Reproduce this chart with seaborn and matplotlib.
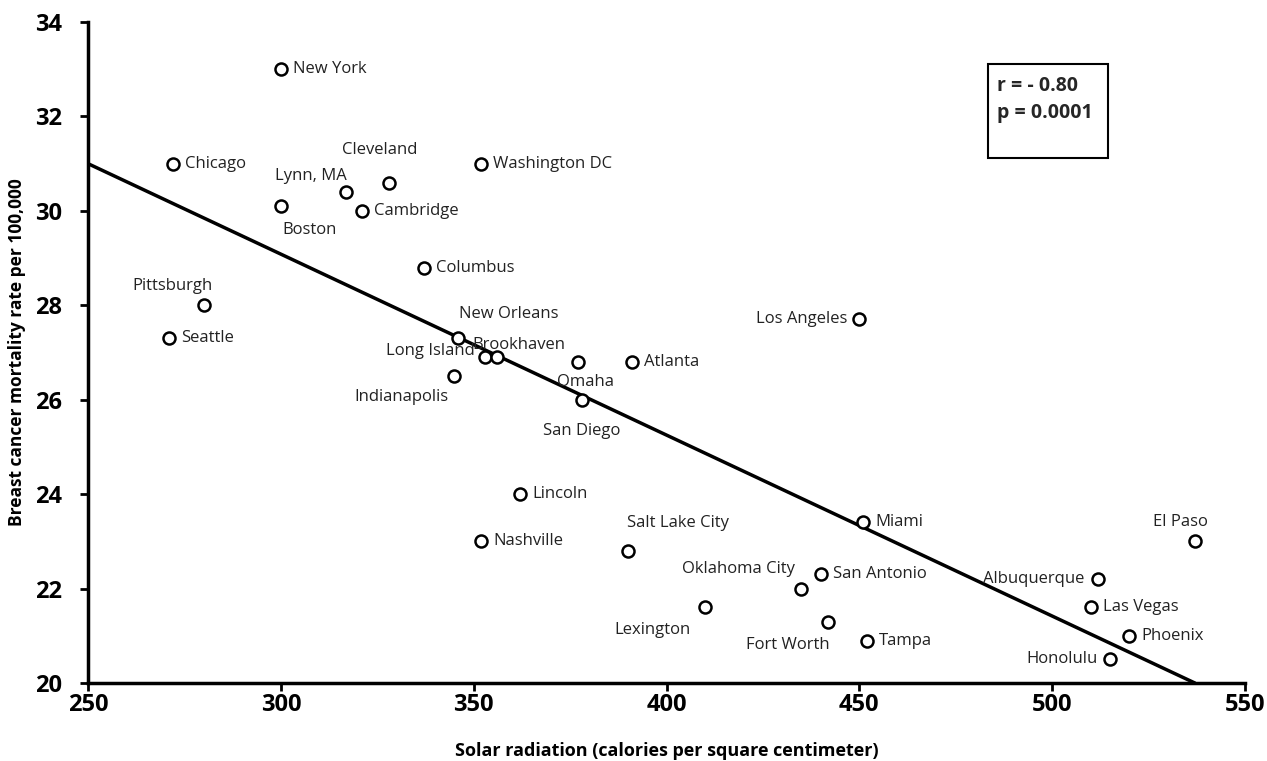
import matplotlib
matplotlib.use("Agg")
import matplotlib.pyplot as plt
import seaborn as sns
import pandas as pd
from matplotlib.patches import Rectangle

cities = ["New York", "Chicago", "Lynn, MA", "Cleveland", "Washington DC", "Boston",
          "Cambridge", "Columbus", "Pittsburgh", "Seattle", "New Orleans", "Long Island",
          "Brookhaven", "Indianapolis", "Omaha", "Atlanta", "San Diego", "Los Angeles",
          "Lincoln", "Miami", "Nashville", "Salt Lake City", "El Paso", "Oklahoma City",
          "San Antonio", "Albuquerque", "Lexington", "Las Vegas", "Fort Worth", "Tampa",
          "Phoenix", "Honolulu"]
solar = [300, 272, 317, 328, 352, 300, 321, 337, 280, 271, 346, 353, 356, 345, 377, 391,
         378, 450, 362, 451, 352, 390, 537, 435, 440, 512, 410, 510, 442, 452, 520, 515]
mortality = [33.0, 31.0, 30.4, 30.6, 31.0, 30.1, 30.0, 28.8, 28.0, 27.3, 27.3, 26.9, 26.9,
             26.5, 26.8, 26.8, 26.0, 27.7, 24.0, 23.4, 23.0, 22.8, 23.0, 22.0, 22.3, 22.2,
             21.6, 21.6, 21.3, 20.9, 21.0, 20.5]
line_x = [250, 537]
line_y = [31.0, 20.0]
x_ticks = [250, 300, 350, 400, 450, 500, 550]
y_ticks = [20, 22, 24, 26, 28, 30, 32, 34]

# label offsets in pixels (dx, dy up-positive, ha)
offsets = {
    "New York": (12, 0, "left"), "Chicago": (12, 0, "left"), "Washington DC": (12, 0, "left"),
    "Cambridge": (12, 0, "left"), "Columbus": (12, 0, "left"), "Seattle": (12, 0, "left"),
    "Atlanta": (12, 0, "left"), "Lincoln": (12, 0, "left"), "Miami": (12, 0, "left"),
    "Nashville": (12, 0, "left"), "San Antonio": (12, 0, "left"), "Las Vegas": (12, 0, "left"),
    "Tampa": (12, 0, "left"), "Phoenix": (12, 0, "left"),
    "Los Angeles": (-12, 0, "right"), "Albuquerque": (-14, 0, "right"),
    "Honolulu": (-12, 0, "right"), "Long Island": (-10, 6, "right"),
    "Pittsburgh": (-31, 19, "center"), "Cleveland": (-9, 33, "center"),
    "Lynn, MA": (-36, 16, "center"), "New Orleans": (51, 24, "center"),
    "Brookhaven": (22, 12, "center"), "Salt Lake City": (50, 28, "center"),
    "Oklahoma City": (-63, 20, "center"), "El Paso": (-14, 19, "center"),
    "Boston": (29, -24, "center"), "Indianapolis": (-53, -21, "center"),
    "Omaha": (8, -20, "center"), "San Diego": (0, -31, "center"),
    "Lexington": (-53, -23, "center"), "Fort Worth": (-41, -23, "center"),
}

df = pd.DataFrame({"city": cities, "solar": solar, "mortality": mortality})

sns.set_theme(style="white")
plt.rcParams["font.family"] = ["Open Sans", "DejaVu Sans"]

fig = plt.figure(figsize=(12.67, 7.61), dpi=100)
ax = fig.add_axes([88/1267, 78/761, (1245-88)/1267, (683-22)/761])

ax.plot(line_x, line_y, color="black", lw=2.5, zorder=2)
sns.scatterplot(data=df, x="solar", y="mortality", ax=ax, s=75, marker="o",
                facecolor="white", edgecolor="black", linewidth=1.8, zorder=3)

for c, xv, yv in zip(cities, solar, mortality):
    dx, dy, ha = offsets[c]
    ax.annotate(c, (xv, yv), xytext=(dx, dy), textcoords="offset pixels",
                ha=ha, va="center", fontsize=12, color="#222222")

ax.set_xlim(250, 550)
ax.set_ylim(20, 34)
ax.set_xticks(x_ticks)
ax.set_yticks(y_ticks)
ax.tick_params(axis="both", direction="out", length=6, width=2, color="black",
               labelsize=17, bottom=True, left=True, labelcolor="black")
ax.tick_params(axis="x", pad=1)
ax.tick_params(axis="y", pad=13)
for lab in ax.get_xticklabels() + ax.get_yticklabels():
    lab.set_fontweight("bold")
for s in ["top", "right"]:
    ax.spines[s].set_visible(False)
for s in ["left", "bottom"]:
    ax.spines[s].set_color("black")
    ax.spines[s].set_linewidth(2.5)

ax.set_xlabel("Solar radiation (calories per square centimeter)", fontsize=13,
              fontweight="bold", labelpad=18, color="black")
ax.set_ylabel("Breast cancer mortality rate per 100,000", fontsize=12.5,
              fontweight="bold", labelpad=6, color="black")

fig.patches.append(Rectangle((988/1267, 1-158/761), 120/1267, 94/761,
                             transform=fig.transFigure, fill=False,
                             edgecolor="black", lw=1.5))
fig.text(997/1267, 1-86/761, "r = - 0.80", fontsize=14, fontweight="bold",
         va="center", ha="left")
fig.text(997/1267, 1-113/761, "p = 0.0001", fontsize=14, fontweight="bold",
         va="center", ha="left")

fig.savefig("out.png", dpi=100)
